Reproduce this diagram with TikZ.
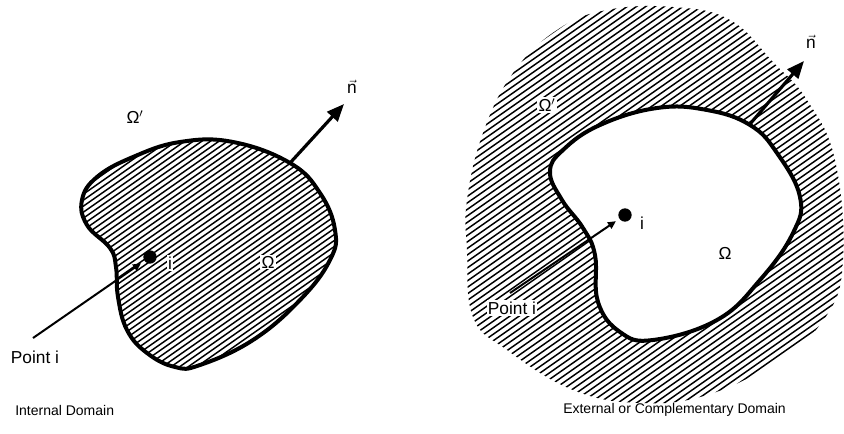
\documentclass[tikz,border=0pt]{standalone}
\usepackage{fontspec}
\setmainfont{Liberation Sans}
\usetikzlibrary{arrows.meta}

\begin{document}
\begin{tikzpicture}[x=0.75pt,y=-0.75pt,
    bnd/.style={line width=3pt, line join=round},
    hat/.style={line width=1.1pt},
    nrm/.style={-{Triangle[length=13pt,width=10.5pt]}, line width=2.4pt},
    ptr/.style={-{Triangle[length=6pt,width=5.5pt]}, line width=1.5pt, shorten >=3pt},
    dot/.style={circle, fill=black, inner sep=0pt, minimum size=10pt},
    lbl/.style={font=\fontsize{13}{15}\selectfont, inner sep=1pt},
    wlbl/.style={lbl, fill=white},
    ttl/.style={font=\fontsize{10.5}{12}\selectfont, anchor=west, inner sep=0pt}
]
\useasboundingbox (0,0) rectangle (844,433);
\def\blobA{plot[smooth cycle, tension=0.7] coordinates {(82,200) (97,177) (133,157) (180,142) (233,142) (290,163) (320,193) (335,230) (330,260) (300,300) (253,340) (200,365) (175,367) (147,353) (127,330) (118,297) (116,267) (110,248) (87,225)}}
\def\blobB{plot[smooth cycle, tension=0.7] coordinates {(550,172) (563,150) (600,125) (657,108) (707,110) (750,125) (777,153) (800,197) (793,233) (760,280) (717,320) (653,340) (620,332) (598,302) (595,255) (583,228) (562,200)}}
\def\blobC{plot[smooth cycle, tension=0.7] coordinates {(467,250) (467,200) (483,133) (513,73) (557,30) (607,10) (673,7) (730,20) (773,62) (807,100) (835,160) (843,260) (825,318) (775,362) (707,395) (640,403) (573,390) (507,350) (473,317)}}

% internal domain
\begin{scope}
  \clip \blobA;
  \foreach \c in {140,146,...,560}
    \draw[hat] (75,\c) -- ++(270,-189);
\end{scope}
\draw[bnd] \blobA;

% external domain
\begin{scope}
  \clip \blobC;
  \foreach \c in {0,6.5,...,680}
    \draw[hat] (460,\c) -- ++(390,-273);
\end{scope}
\fill[white] \blobB;
\draw[bnd] \blobB;

% labels, left
\node[lbl] (oA) at (135,117) {Ω$'$};
\node[wlbl] (wA) at (268,262) {Ω};
\node[dot] (dA) at (150,257) {};
\node[wlbl] (iA) at (170,263) {i};
\node[lbl] (pA) at (35,357) {Point i};
\node[lbl] (nA) at (352,87) {$\vec{\mbox{n}}$};
\node[ttl] (tA) at (15,410) {Internal Domain};
\coordinate (sA) at (33,338);
\coordinate (bA) at (290,163);
\coordinate (eA) at (344,104);

% labels, right
\node[wlbl] (oB) at (547,105) {Ω$'$};
\node[lbl] (wB) at (725,253) {Ω};
\node[dot] (dB) at (625,215) {};
\node[lbl] (iB) at (642,223) {i};
\node[wlbl] (pB) at (512,308) {Point i};
\node[lbl] (nB) at (811,42) {$\vec{\mbox{n}}$};
\node[ttl] (tB) at (563,410) {External or Complementary Domain};
\coordinate (sB) at (510,293);
\coordinate (bB) at (750,124);
\coordinate (eB) at (804,61);

\draw[ptr] (sA) -- (dA);
\draw[nrm] (bA) -- (eA);
\draw[ptr] (sB) -- (dB);
\draw[nrm] (bB) -- (eB);
\end{tikzpicture}
\end{document}
